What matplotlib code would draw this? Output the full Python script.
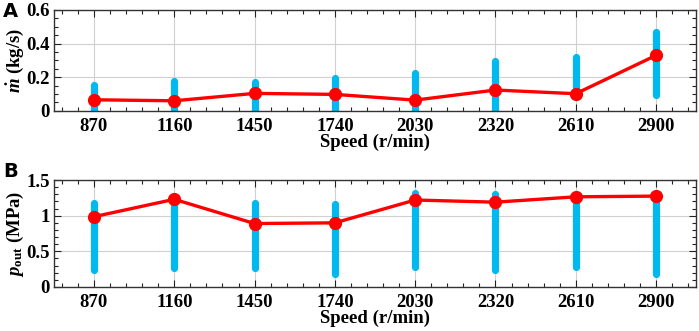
import numpy as np
import matplotlib
matplotlib.use('Agg')
import matplotlib.pyplot as plt
from matplotlib.ticker import MultipleLocator

# data
speeds = [870, 1160, 1450, 1740, 2030, 2320, 2610, 2900]
mdot_mean = [0.066, 0.060, 0.104, 0.098, 0.064, 0.124, 0.102, 0.330]
mdot_min = [0.0, 0.0, 0.0, 0.0, -0.01, -0.01, 0.086, 0.092]
mdot_max = [0.156, 0.180, 0.174, 0.194, 0.226, 0.294, 0.322, 0.470]
pout_mean = [0.986, 1.23, 0.89, 0.90, 1.22, 1.19, 1.265, 1.275]
pout_min = [0.245, 0.26, 0.26, 0.185, 0.278, 0.236, 0.278, 0.185]
pout_max = [1.18, 1.20, 1.18, 1.17, 1.32, 1.31, 1.24, 1.24]

plt.rcParams['font.family'] = 'Liberation Serif'
plt.rcParams['font.weight'] = 'bold'
plt.rcParams['axes.labelweight'] = 'bold'
plt.rcParams['mathtext.fontset'] = 'custom'
plt.rcParams['mathtext.rm'] = 'Liberation Serif:bold'
plt.rcParams['mathtext.it'] = 'Liberation Serif:italic:bold'
plt.rcParams['mathtext.bf'] = 'Liberation Serif:bold'

blue = '#00B9EE'
red = '#FF0000'
fs = 13.5

fig = plt.figure(figsize=(6.99, 3.31), dpi=100)
axA = fig.add_axes([0.077, 0.665, 0.919, 0.305])
axB = fig.add_axes([0.077, 0.133, 0.919, 0.323])


def style(ax, ylim, ymajor, yminor):
    ax.set_xlim(725, 3045)
    ax.set_ylim(*ylim)
    ax.set_xticks(speeds)
    ax.xaxis.set_minor_locator(MultipleLocator(58))
    ax.yaxis.set_major_locator(MultipleLocator(ymajor))
    ax.yaxis.set_minor_locator(MultipleLocator(yminor))
    ax.grid(True, which='major', color='#d0d0d0', linewidth=0.8)
    ax.set_axisbelow(True)
    ax.tick_params(which='both', direction='in', top=True, right=True,
                   labelsize=fs, width=0.8, color='#222222')
    ax.tick_params(which='major', length=5)
    ax.tick_params(axis='x', which='major', pad=5)
    ax.tick_params(axis='y', which='major', pad=3)
    ax.tick_params(which='minor', length=3)
    for s in ax.spines.values():
        s.set_color('#333333')
        s.set_linewidth(1.0)
    ax.set_xlabel('Speed (r/min)', fontsize=fs, fontweight='bold', labelpad=-1)


# panel A
for x, lo, hi in zip(speeds, mdot_min, mdot_max):
    axA.plot([x, x], [lo, hi], color=blue, linewidth=5.2,
             solid_capstyle='round', zorder=2)
axA.plot(speeds, mdot_mean, color=red, linewidth=2.4, marker='o',
         markersize=8.5, zorder=3)
style(axA, (0, 0.6), 0.2, 0.05)
axA.set_yticks([0, 0.2, 0.4, 0.6])
axA.set_yticklabels(['0', '0.2', '0.4', '0.6'])
axA.set_ylabel(r'$\dot{m}$ (kg/s)', fontsize=fs, labelpad=0)

# panel B
for x, lo, hi in zip(speeds, pout_min, pout_max):
    axB.plot([x, x], [lo, hi], color=blue, linewidth=5.2,
             solid_capstyle='round', zorder=2)
axB.plot(speeds, pout_mean, color=red, linewidth=2.4, marker='o',
         markersize=8.5, zorder=3)
style(axB, (0, 1.5), 0.5, 0.1)
axB.set_yticks([0, 0.5, 1, 1.5])
axB.set_yticklabels(['0', '0.5', '1', '1.5'])
axB.set_ylabel(r'$p_{\mathrm{out}}$ (MPa)', fontsize=fs, labelpad=0)

fig.text(0.004, 0.995, 'A', fontsize=14, fontweight='bold',
         family='DejaVu Sans', va='top', ha='left')
fig.text(0.004, 0.51, 'B', fontsize=14, fontweight='bold',
         family='DejaVu Sans', va='top', ha='left')

fig.savefig('out.png', dpi=100)
